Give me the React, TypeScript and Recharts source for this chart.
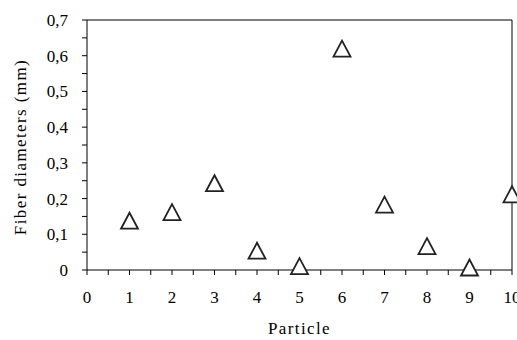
import React from "react";
import {
  ScatterChart, Scatter, XAxis, YAxis, ReferenceLine, Label,
} from "recharts";

// particle number vs fiber diameter (mm)
const particles = [1, 2, 3, 4, 5, 6, 7, 8, 9, 10];
const diameters = [0.138, 0.162, 0.243, 0.054, 0.011, 0.62, 0.183, 0.067, 0.007, 0.212];

const xTicks = [0, 0.5, 1, 1.5, 2, 2.5, 3, 3.5, 4, 4.5, 5, 5.5, 6, 6.5, 7, 7.5, 8, 8.5, 9, 9.5, 10];
const yTicks = [0, 0.05, 0.1, 0.15, 0.2, 0.25, 0.3, 0.35, 0.4, 0.45, 0.5, 0.55, 0.6, 0.65, 0.7];

const data = particles.map((p, i) => ({ x: p, y: diameters[i] }));

const FONT = "Liberation Serif, Times New Roman, serif";
const tickStyle = { fill: "#000", fontSize: 17, style: { fontFamily: FONT } };

const fmtY = (v: number) => {
  if (Math.round(v * 100) % 10 !== 0) return "";
  return v === 0 ? "0" : v.toFixed(1).replace(".", ",");
};
const fmtX = (v: number) => (Number.isInteger(v) ? String(v) : "");

// open triangle marker
const Triangle = (props: any) => {
  const { cx, cy } = props;
  const w = 8.5, h = 8;
  const pts = `${cx},${cy - h} ${cx + w},${cy + h} ${cx - w},${cy + h}`;
  return <polygon points={pts} fill="#fff" stroke="#222" strokeWidth={1.8} strokeLinejoin="miter" />;
};

export default function App() {
  return (
    <div style={{ position: "absolute", left: 0, top: 0, background: "#fff", fontFamily: FONT }}>
      <ScatterChart width={517} height={340} margin={{ top: 20, right: 5, left: 0, bottom: 0 }}
        style={{ fontFamily: FONT }}>
        <XAxis
          type="number" dataKey="x" domain={[0, 10]} ticks={xTicks} interval={0}
          tickFormatter={fmtX} tick={tickStyle} tickSize={5} tickMargin={16}
          axisLine={{ stroke: "#000" }} tickLine={{ stroke: "#000" }} height={70}
        >
          <Label
            content={(p: any) => {
              const vb = p.viewBox;
              return (
                <text x={vb.x + vb.width / 2} y={334} textAnchor="middle"
                  fontSize={17} style={{ fontFamily: FONT }} letterSpacing={1.4} fill="#000">
                  Particle
                </text>
              );
            }}
          />
        </XAxis>
        <YAxis
          type="number" dataKey="y" domain={[0, 0.7]} ticks={yTicks} interval={0}
          tickFormatter={fmtY} tick={tickStyle} tickSize={5} tickMargin={14}
          axisLine={{ stroke: "#000" }} tickLine={{ stroke: "#000" }} width={87}
        >
          <Label
            content={(p: any) => {
              const vb = p.viewBox;
              const cy = vb.y + vb.height / 2 + 2;
              return (
                <text x={20} y={cy} transform={`rotate(-90, 20, ${cy})`} textAnchor="middle"
                  dominantBaseline="central" fontSize={17} style={{ fontFamily: FONT }}
                  letterSpacing={1.4} fill="#000">
                  Fiber diameters (mm)
                </text>
              );
            }}
          />
        </YAxis>
        <ReferenceLine y={0.7} stroke="#000" />
        <ReferenceLine x={10} stroke="#000" />
        <Scatter data={data} shape={Triangle} isAnimationActive={false} />
      </ScatterChart>
    </div>
  );
}
